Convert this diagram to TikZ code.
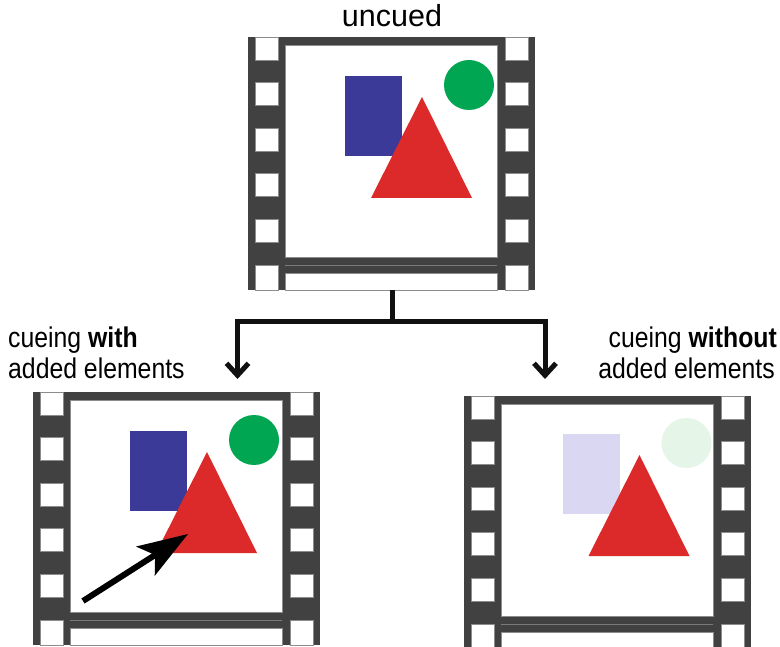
\documentclass[tikz,border=0pt]{standalone}
\usepackage{fontspec}
\setmainfont{Liberation Sans}
\usetikzlibrary{arrows.meta}
\definecolor{filmgray}{HTML}{414141}
\definecolor{edgegray}{HTML}{8C8C8C}
\definecolor{seamgray}{HTML}{7A7A7A}
\definecolor{shapeblue}{HTML}{3C3A99}
\definecolor{shapered}{HTML}{DC2A2B}
\definecolor{shapegreen}{HTML}{00A651}
\definecolor{paleblue}{HTML}{DAD7F2}
\definecolor{palegreen}{HTML}{E5F5E8}
\definecolor{inkblack}{HTML}{111111}
\tikzset{
  hole/.style={fill=white,draw=edgegray,line width=0.6pt},
  window/.style={fill=white,draw=edgegray,line width=0.8pt},
  framebox/.style={inner sep=0pt,minimum width=287pt,minimum height=253pt},
  conn/.style={line width=5pt,draw=inkblack,line join=miter,line cap=butt},
  labeltext/.style={inner sep=0pt,font=\fontsize{28.5}{34}\selectfont},
  pics/filmframe/.style={code={
    \fill[filmgray] (0,0) rectangle (287,253);
    \foreach \i in {1,...,4} {
      \filldraw[hole] (7,{45.5*\i}) rectangle (30,{45.5*\i+23});
      \filldraw[hole] (257,{45.5*\i}) rectangle (280,{45.5*\i+23});
    }
    \filldraw[hole] (7,0) rectangle (30,23);
    \filldraw[hole] (257,0) rectangle (280,23);
    \filldraw[hole] (7,228) rectangle (30,253);
    \filldraw[hole] (257,228) rectangle (280,253);
    \filldraw[window] (37,8) rectangle (249,220);
    \filldraw[window] (37,236) rectangle (249,253);
    \draw[seamgray,line width=0.8pt] (37,228) -- (249,228);
  }},
  pics/scene/.style n args={2}{code={
    \fill[#1] (97,39) rectangle (154,119);
    \fill[#2] (221,48) circle[radius=25];
    \fill[shapered] (123,161) -- (174,60) -- (224,161) -- cycle;
  }}
}
\begin{document}
\begin{tikzpicture}[x=1pt,y=-1pt]
\useasboundingbox (0,0) rectangle (780,647);
\clip (0,0) rectangle (780,647);

% top frame (uncued)
\node[framebox] (topframe) at (391.5,163.5) {};
\pic at (248,37) {filmframe};
\pic at (248,37) {scene={shapeblue}{shapegreen}};

% bottom left frame (cueing with added elements)
\node[framebox] (leftframe) at (176.5,518.5) {};
\pic at (33,392) {filmframe};
\pic at (33,392) {scene={shapeblue}{shapegreen}};
\coordinate (cuetail) at (83,601);
\coordinate (cuetip) at (188,534);
\draw[line width=6pt,draw=black,-{Stealth[length=50pt,width=34pt,inset=11pt]}] (cuetail) -- (cuetip);

% bottom right frame (cueing without added elements)
\node[framebox] (rightframe) at (607.5,522.5) {};
\pic at (464,396) {filmframe};
\pic at (465.5,395) {scene={paleblue}{palegreen}};

% labels
\node[anchor=base,inner sep=0pt,font=\fontsize{30.5}{36}\selectfont] (uncued) at (392,27) {uncued};
\node[labeltext,anchor=base west] (withA) at (8,348) {\scalebox{0.87}[1]{cueing \textbf{with}}};
\node[labeltext,anchor=base west] (withB) at (8,378) {\scalebox{0.87}[1]{added elements}};
\node[labeltext,anchor=base east] (withoutA) at (777,348) {\scalebox{0.87}[1]{cueing \textbf{without}}};
\node[labeltext,anchor=base east] (withoutB) at (775,378) {\scalebox{0.87}[1]{added elements}};

% connectors
\coordinate (split) at (392,322);
\coordinate (leftend) at (237.5,379);
\coordinate (rightend) at (545,379);
\draw[conn] (topframe.south -| split) -- (split);
\draw[conn,-{Straight Barb[length=12pt,width=22pt,sharp]}] (split) -| (leftend);
\draw[conn,-{Straight Barb[length=12pt,width=22pt,sharp]}] (split) -| (rightend);
\end{tikzpicture}
\end{document}
